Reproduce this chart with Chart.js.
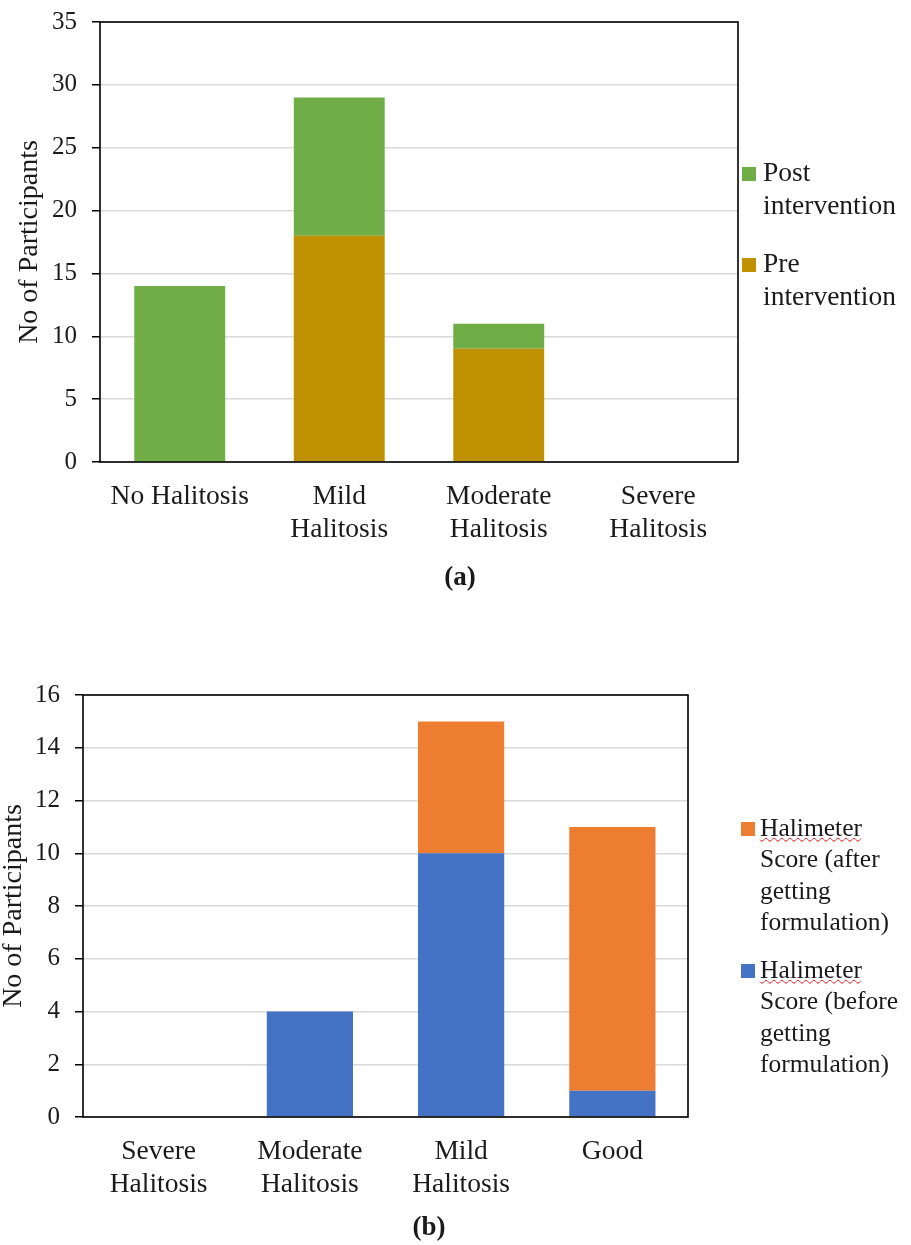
<!DOCTYPE html>
<html>
<head>
<meta charset="utf-8">
<script src="https://cdn.jsdelivr.net/npm/chart.js@4.4.1/dist/chart.umd.min.js"></script>
<style>
  html, body { margin: 0; padding: 0; background: #fff; }
  body { width: 911px; height: 1245px; position: relative; overflow: hidden; }
  canvas { position: absolute; left: 0; }
  #chartA { top: 0; }
  #chartB { top: 640px; }
</style>
</head>
<body>
<canvas id="chartA" width="911" height="610"></canvas>
<canvas id="chartB" width="911" height="605"></canvas>
<script>
// ---- Panel (a): participants by halitosis grade, pre vs post intervention ----
const categoriesA = ['No Halitosis', ['Mild', 'Halitosis'], ['Moderate', 'Halitosis'], ['Severe', 'Halitosis']];
const preIntervention = [0, 18, 9, 0];
const postIntervention = [14, 11, 2, 0];
const seriesNamesA = ['Pre intervention', 'Post intervention'];
const legendLinesA = [['Pre', 'intervention'], ['Post', 'intervention']];
const yTicksA = [0, 5, 10, 15, 20, 25, 30, 35];

// ---- Panel (b): Halimeter score before / after getting the formulation ----
const categoriesB = [['Severe', 'Halitosis'], ['Moderate', 'Halitosis'], ['Mild', 'Halitosis'], 'Good'];
const halimeterBefore = [0, 4, 10, 1];
const halimeterAfter = [0, 0, 5, 10];
const seriesNamesB = ['Halimeter Score (before getting formulation)', 'Halimeter Score (after getting formulation)'];
const legendLinesB = [['Halimeter', 'Score (before', 'getting', 'formulation)'], ['Halimeter', 'Score (after', 'getting', 'formulation)']];
const yTicksB = [0, 2, 4, 6, 8, 10, 12, 14, 16];

const SERIF = "'Liberation Serif', 'Times New Roman', serif";
const INK = '#1a1a1a';

// Black frame around the plotting area
const frameBox = {
  id: 'frameBox',
  afterDatasetsDraw(chart) {
    const { ctx, chartArea: a } = chart;
    ctx.save();
    ctx.strokeStyle = '#000';
    ctx.lineWidth = 1.6;
    ctx.strokeRect(a.left, a.top, a.right - a.left, a.bottom - a.top);
    ctx.restore();
  }
};

// Bold panel tag such as "(a)" under the axis labels
const panelTag = {
  id: 'panelTag',
  afterDraw(chart, args, opts) {
    const { ctx } = chart;
    ctx.save();
    ctx.font = `bold 27px ${SERIF}`;
    ctx.fillStyle = INK;
    ctx.textAlign = 'center';
    ctx.textBaseline = 'middle';
    ctx.fillText(opts.text, opts.x, opts.y);
    ctx.restore();
  }
};

// Legend at the right with wrapped, multi-line entries (top entry = top stack segment)
const sideLegend = {
  id: 'sideLegend',
  afterDraw(chart, args, opts) {
    const { ctx } = chart;
    const sets = chart.data.datasets;
    ctx.save();
    ctx.font = `${opts.fontSize}px ${SERIF}`;
    ctx.textBaseline = 'middle';
    ctx.textAlign = 'left';
    let y = opts.firstY;
    for (let i = sets.length - 1; i >= 0; i--) {
      const lines = opts.lines[i];
      ctx.fillStyle = sets[i].backgroundColor;
      ctx.fillRect(opts.boxX, y - opts.box / 2, opts.box, opts.box);
      ctx.fillStyle = INK;
      lines.forEach((ln, k) => {
        const ly = y + k * opts.lineStep;
        ctx.fillText(ln, opts.textX, ly);
        if (opts.squiggle && k === 0) {
          const w = ctx.measureText(ln).width;
          const base = ly + opts.fontSize * 0.42;
          ctx.beginPath();
          ctx.strokeStyle = '#e02020';
          ctx.lineWidth = 1;
          for (let x = 0; x <= w; x += 1) {
            const yy = base + Math.sin(x / 4 * Math.PI) * 1.5;
            if (x === 0) ctx.moveTo(opts.textX + x, yy); else ctx.lineTo(opts.textX + x, yy);
          }
          ctx.stroke();
        }
      });
      y += lines.length * opts.lineStep + opts.itemGap;
    }
    ctx.restore();
  }
};

function buildChart(id, cfg) {
  return new Chart(document.getElementById(id), {
    type: 'bar',
    data: {
      labels: cfg.labels,
      datasets: cfg.series.map(s => ({
        label: s.name,
        data: s.data,
        backgroundColor: s.color,
        borderWidth: 0,
        barPercentage: 0.57,
        categoryPercentage: 1.0
      }))
    },
    options: {
      responsive: false,
      animation: false,
      devicePixelRatio: 1,
      layout: { padding: cfg.padding },
      plugins: {
        legend: { display: false },
        tooltip: { enabled: false },
        title: { display: false },
        sideLegend: cfg.legend,
        panelTag: cfg.tag
      },
      scales: {
        x: {
          stacked: true,
          grid: { display: false, drawTicks: false },
          border: { display: false },
          ticks: {
            color: INK,
            padding: 18,
            maxRotation: 0,
            autoSkip: false,
            font: { family: SERIF, size: 27.5, lineHeight: 1.2 }
          },
          afterFit: s => { s.height = cfg.xHeight; }
        },
        y: {
          stacked: true,
          min: cfg.yTicks[0],
          max: cfg.yTicks[cfg.yTicks.length - 1],
          afterBuildTicks: s => { s.ticks = cfg.yTicks.map(v => ({ value: v })); },
          grid: {
            color: '#d9d9d9',
            lineWidth: 1.5,
            drawTicks: true,
            tickLength: 8,
            tickColor: '#000',
            tickWidth: 1.5
          },
          border: { display: false },
          ticks: {
            color: INK,
            padding: 15,
            font: { family: SERIF, size: 25 }
          },
          title: {
            display: true,
            text: 'No of Participants',
            color: INK,
            font: { family: SERIF, size: 28, lineHeight: cfg.yTitleLH },
            padding: { top: cfg.yTitlePad, bottom: 0 }
          },
          afterFit: s => {
            s.width = cfg.yWidth;
            s.paddingTop = 10;
            s.paddingBottom = 10;
          }
        }
      }
    },
    plugins: [frameBox, sideLegend, panelTag]
  });
}

buildChart('chartA', {
  labels: categoriesA,
  series: [
    { name: seriesNamesA[0], data: preIntervention, color: '#bf9000' },
    { name: seriesNamesA[1], data: postIntervention, color: '#70ad47' }
  ],
  yTicks: yTicksA,
  padding: { left: 0, top: 22, right: 173, bottom: 48 },
  xHeight: 100,
  yWidth: 100,
  yTitleLH: 1.2,
  yTitlePad: 13,
  tag: { text: '(a)', x: 460, y: 578 },
  legend: {
    lines: legendLinesA, boxX: 742, textX: 763, box: 14, fontSize: 27.5,
    firstY: 174, lineStep: 33, itemGap: 25, squiggle: false
  }
});

buildChart('chartB', {
  labels: categoriesB,
  series: [
    { name: seriesNamesB[0], data: halimeterBefore, color: '#4472c4' },
    { name: seriesNamesB[1], data: halimeterAfter, color: '#ed7d31' }
  ],
  yTicks: yTicksB,
  padding: { left: 0, top: 55, right: 223, bottom: 39 },
  xHeight: 89,
  yWidth: 83,
  yTitleLH: 1.0,
  yTitlePad: 0,
  tag: { text: '(b)', x: 429, y: 588 },
  legend: {
    lines: legendLinesB, boxX: 741, textX: 760, box: 14, fontSize: 25.5,
    firstY: 189, lineStep: 31.5, itemGap: 16, squiggle: true
  }
});
</script>
</body>
</html>
